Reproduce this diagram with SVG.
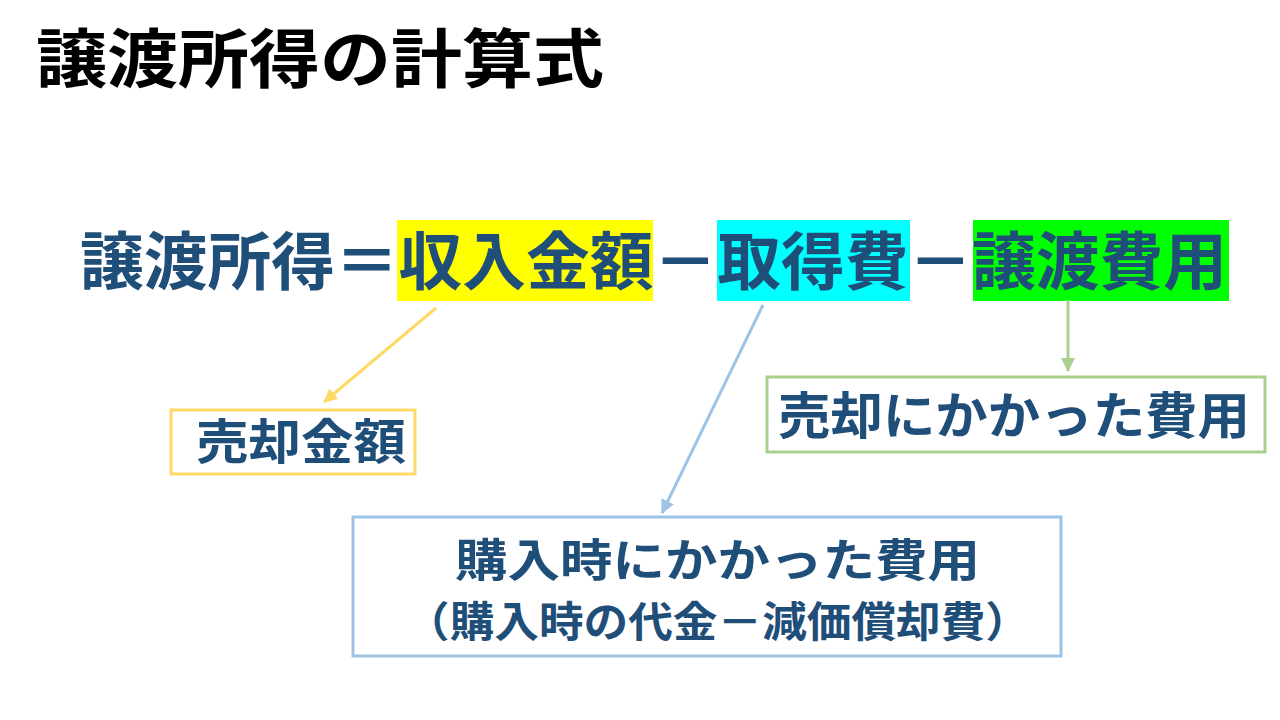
<svg xmlns="http://www.w3.org/2000/svg" width="1280" height="720" viewBox="0 0 1280 720">
<style>
.t{font-family:"Noto Sans CJK JP","Noto Sans",sans-serif;font-weight:bold}
.f{fill:#1F4E79}
</style>
<defs>
<marker id="ay" markerWidth="14" markerHeight="14" refX="13" refY="7" orient="auto" markerUnits="userSpaceOnUse" viewBox="0 0 14 14"><path d="M0,0L14,7L0,14z" fill="#FFD966"/></marker>
<marker id="ab" markerWidth="14" markerHeight="14" refX="13" refY="7" orient="auto" markerUnits="userSpaceOnUse" viewBox="0 0 14 14"><path d="M0,0L14,7L0,14z" fill="#9DC3E6"/></marker>
<marker id="ag" markerWidth="14" markerHeight="14" refX="13" refY="7" orient="auto" markerUnits="userSpaceOnUse" viewBox="0 0 14 14"><path d="M0,0L14,7L0,14z" fill="#A9D18E"/></marker>
</defs>
<rect width="1280" height="720" fill="#fff"/>
<g id="title"><text class="t" x="36" y="82" font-size="64" fill="#000" textLength="568" lengthAdjust="spacingAndGlyphs">譲渡所得の計算式</text></g>
<g id="formula">
<rect x="397" y="220" width="256" height="81" fill="#FFFF00"/>
<rect x="717" y="220" width="193" height="81" fill="#00FFFF"/>
<rect x="973" y="220" width="256" height="81" fill="#00FF00"/>
<text class="t f" x="80" y="284" font-size="63" textLength="1147" lengthAdjust="spacingAndGlyphs">譲渡所得＝収入金額－取得費－譲渡費用</text>
</g>
<g id="connectors" fill="none" stroke-width="3">
<line x1="436" y1="308" x2="324" y2="402" stroke="#FFD966" marker-end="url(#ay)"/>
<line x1="763" y1="305" x2="662" y2="513" stroke="#9DC3E6" marker-end="url(#ab)"/>
<line x1="1068" y1="300" x2="1068" y2="371" stroke="#A9D18E" marker-end="url(#ag)"/>
</g>
<g id="n1"><rect x="171" y="410" width="244" height="64" fill="#fff" stroke="#FFD966" stroke-width="3"/>
<text class="t f" x="196" y="459" font-size="48" textLength="210" lengthAdjust="spacingAndGlyphs">売却金額</text></g>
<g id="n2"><rect x="767" y="377" width="498" height="75" fill="#fff" stroke="#A9D18E" stroke-width="3"/>
<text class="t f" x="778" y="434" font-size="50" textLength="472" lengthAdjust="spacingAndGlyphs">売却にかかった費用</text></g>
<g id="n3"><rect x="353" y="517" width="708" height="139" fill="#fff" stroke="#9DC3E6" stroke-width="3"/>
<text class="t f" x="455" y="577" font-size="45" textLength="525" lengthAdjust="spacingAndGlyphs">購入時にかかった費用</text>
<text class="t f" x="405" y="637" font-size="42" textLength="625" lengthAdjust="spacingAndGlyphs">（購入時の代金－減価償却費）</text></g>
</svg>
